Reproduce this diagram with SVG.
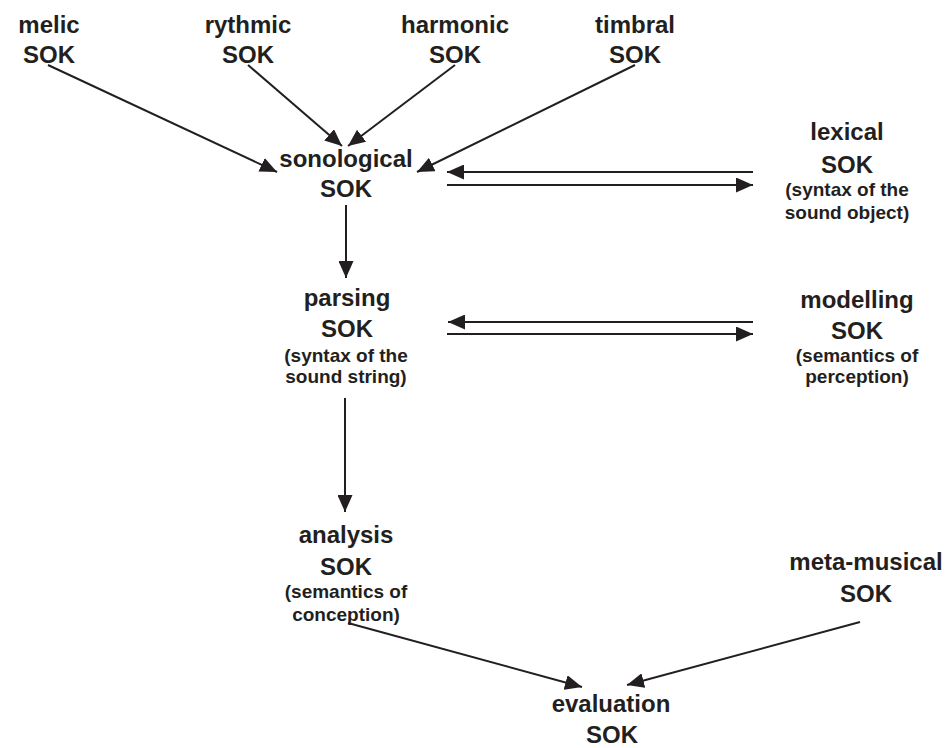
<svg xmlns="http://www.w3.org/2000/svg" width="947" height="748" viewBox="0 0 947 748">
<style>
text{font-family:"Liberation Sans",Arial,sans-serif;font-weight:bold;fill:#231f20;text-anchor:middle}
.t{font-size:24px}
.s{font-size:19px}
.c line{stroke:#231f20;stroke-width:2;marker-end:url(#ah)}
</style>
<defs>
<marker id="ah" viewBox="0 0 17 15" markerWidth="17" markerHeight="15" refX="17" refY="7.5" orient="auto" markerUnits="userSpaceOnUse">
<path d="M0,0 L17,7.5 L0,15 z" fill="#231f20"/>
</marker>
</defs>
<rect width="947" height="748" fill="#fff"/>
<g id="connectors" class="c">
<line x1="48" y1="65" x2="277" y2="172"/>
<line x1="248" y1="65" x2="342" y2="146"/>
<line x1="455" y1="65" x2="348" y2="146"/>
<line x1="635" y1="65" x2="417" y2="172"/>
<line x1="753" y1="172" x2="447" y2="172"/>
<line x1="447" y1="185" x2="753" y2="185"/>
<line x1="346" y1="205" x2="346" y2="278"/>
<line x1="753" y1="322" x2="448" y2="322"/>
<line x1="447" y1="334" x2="753" y2="334"/>
<line x1="345" y1="398" x2="345" y2="512"/>
<line x1="348" y1="623" x2="582" y2="687"/>
<line x1="860" y1="622" x2="627" y2="685"/>
</g>
<g id="melic"><text class="t" x="49" y="33">melic</text><text class="t" x="49" y="63">SOK</text></g>
<g id="rythmic"><text class="t" x="248" y="33">rythmic</text><text class="t" x="248" y="63">SOK</text></g>
<g id="harmonic"><text class="t" x="455" y="33">harmonic</text><text class="t" x="455" y="63">SOK</text></g>
<g id="timbral"><text class="t" x="635" y="33">timbral</text><text class="t" x="635" y="63">SOK</text></g>
<g id="sonological"><text class="t" x="346" y="167">sonological</text><text class="t" x="346" y="197">SOK</text></g>
<g id="lexical"><text class="t" x="847" y="140">lexical</text><text class="t" x="847" y="173">SOK</text><text class="s" x="847" y="196">(syntax of the</text><text class="s" x="847" y="219">sound object)</text></g>
<g id="parsing"><text class="t" x="347" y="306">parsing</text><text class="t" x="347" y="337">SOK</text><text class="s" x="346" y="362">(syntax of the</text><text class="s" x="346" y="383">sound string)</text></g>
<g id="modelling"><text class="t" x="857" y="308">modelling</text><text class="t" x="857" y="339">SOK</text><text class="s" x="857" y="362">(semantics of</text><text class="s" x="857" y="383">perception)</text></g>
<g id="analysis"><text class="t" x="346" y="543">analysis</text><text class="t" x="346" y="575">SOK</text><text class="s" x="346" y="598">(semantics of</text><text class="s" x="346" y="621">conception)</text></g>
<g id="meta-musical"><text class="t" x="866" y="570">meta-musical</text><text class="t" x="866" y="602">SOK</text></g>
<g id="evaluation"><text class="t" x="611" y="712">evaluation</text><text class="t" x="612" y="743">SOK</text></g>
</svg>
